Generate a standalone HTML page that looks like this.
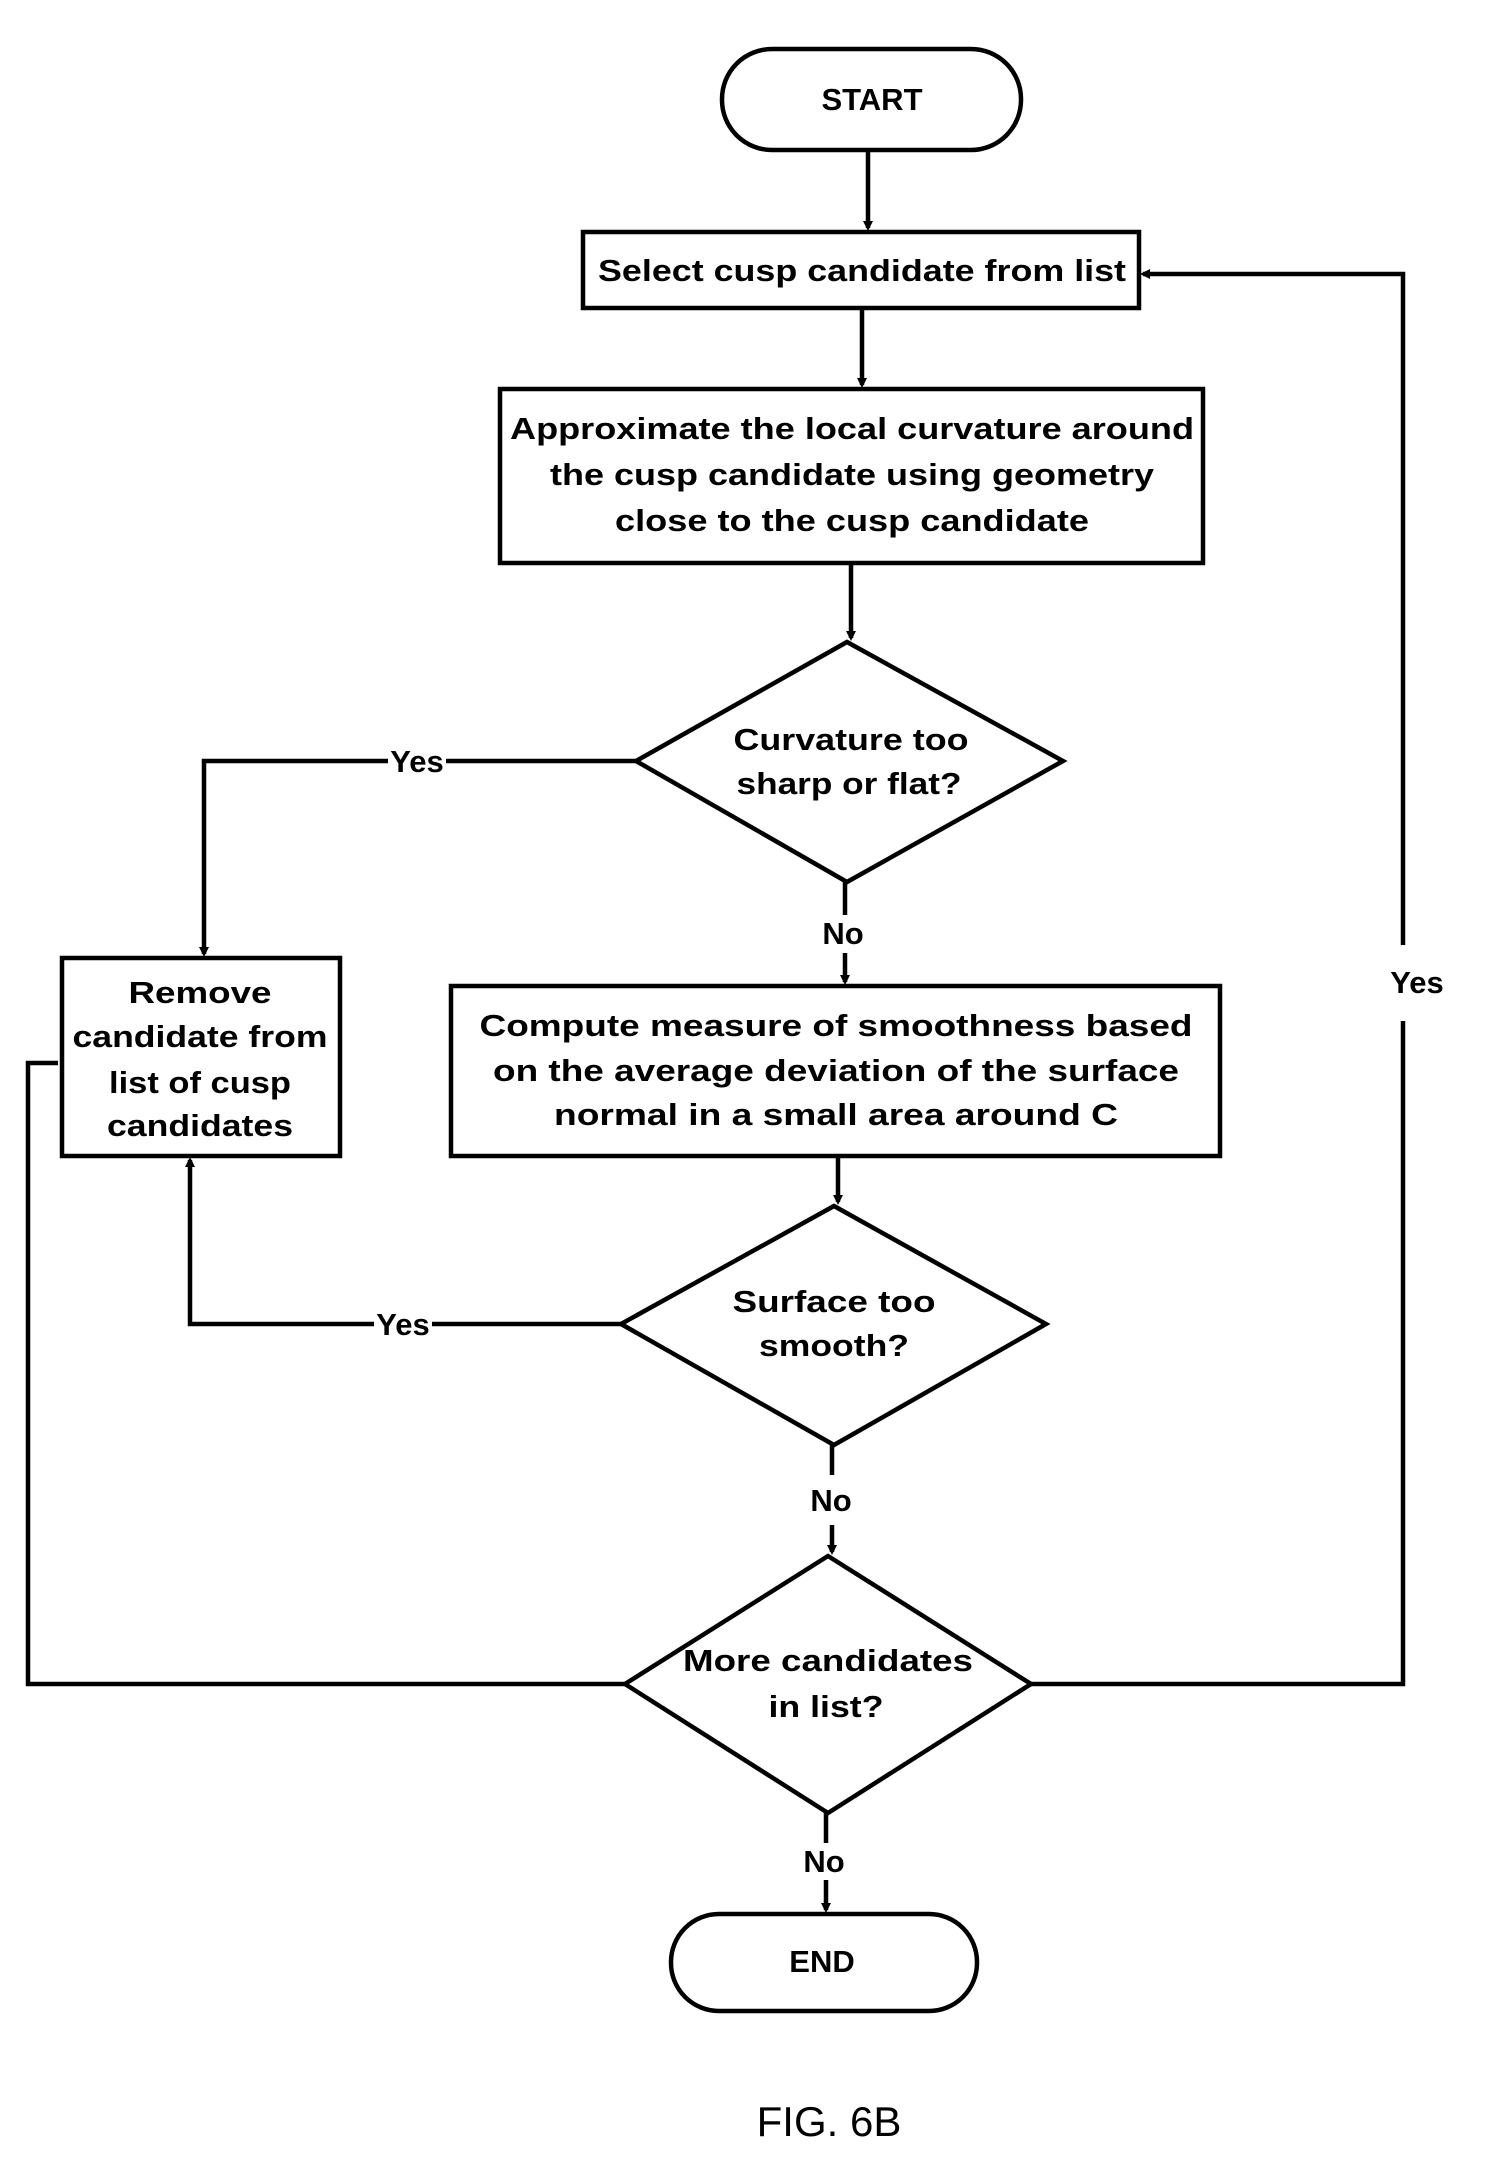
<!DOCTYPE html>
<html><head><style>html,body{margin:0;padding:0;background:#fff}svg{display:block}</style></head>
<body>
<svg width="1500" height="2161" viewBox="0 0 1500 2161" xmlns="http://www.w3.org/2000/svg">
<defs><marker id="a" markerWidth="10" markerHeight="10" refX="7" refY="5" orient="auto" markerUnits="userSpaceOnUse"><path d="M0,0 L10,5 L0,10 z" fill="#000"/></marker></defs>
<g fill="none" stroke="#000" stroke-width="4.5">
<rect x="722" y="49" width="299" height="101" rx="50"/>
<rect x="583" y="232" width="556" height="76"/>
<rect x="500" y="389" width="703" height="174"/>
<polygon points="847,642 1063,761 847,882 636,761"/>
<rect x="62" y="958" width="278" height="198"/>
<rect x="451" y="986" width="769" height="170"/>
<polygon points="834,1206 1046,1324 834,1445 621,1324"/>
<polygon points="828,1556 1031,1684 828,1813 625,1684"/>
<rect x="671" y="1914" width="306" height="97" rx="48"/>
<path d="M868,150 V228" marker-end="url(#a)"/>
<path d="M862,308 V385" marker-end="url(#a)"/>
<path d="M851,563 V638" marker-end="url(#a)"/>
<path d="M636,761 H446 M388,761 H204 V954" marker-end="url(#a)"/>
<path d="M845,882 V915 M845,953 V982" marker-end="url(#a)"/>
<path d="M838,1156 V1202" marker-end="url(#a)"/>
<path d="M621,1324 H432 M374,1324 H190 V1160" marker-end="url(#a)"/>
<path d="M832,1445 V1475 M832,1525 V1552" marker-end="url(#a)"/>
<path d="M625,1684 H28 V1063 H58"/>
<path d="M1031,1684 H1403 V1021 M1403,945 V274 H1143" marker-end="url(#a)"/>
<path d="M826,1813 V1843 M826,1880 V1910" marker-end="url(#a)"/>
</g>
<g font-family="'Liberation Sans',sans-serif" font-weight="bold" font-size="31" text-anchor="middle" fill="#000">
<text x="872" y="110">START</text>
<text x="862" y="281" textLength="528" lengthAdjust="spacingAndGlyphs">Select cusp candidate from list</text>
<text x="852" y="439" textLength="684" lengthAdjust="spacingAndGlyphs">Approximate the local curvature around</text>
<text x="852" y="485" textLength="604" lengthAdjust="spacingAndGlyphs">the cusp candidate using geometry</text>
<text x="852" y="531" textLength="474" lengthAdjust="spacingAndGlyphs">close to the cusp candidate</text>
<text x="851" y="750" textLength="235" lengthAdjust="spacingAndGlyphs">Curvature too</text>
<text x="849" y="794" textLength="225" lengthAdjust="spacingAndGlyphs">sharp or flat?</text>
<text x="417" y="772">Yes</text>
<text x="843" y="944">No</text>
<text x="200" y="1003" textLength="143" lengthAdjust="spacingAndGlyphs">Remove</text>
<text x="200" y="1047" textLength="255" lengthAdjust="spacingAndGlyphs">candidate from</text>
<text x="200" y="1093" textLength="182" lengthAdjust="spacingAndGlyphs">list of cusp</text>
<text x="200" y="1136" textLength="186" lengthAdjust="spacingAndGlyphs">candidates</text>
<text x="836" y="1036" textLength="713" lengthAdjust="spacingAndGlyphs">Compute measure of smoothness based</text>
<text x="836" y="1081" textLength="686" lengthAdjust="spacingAndGlyphs">on the average deviation of the surface</text>
<text x="836" y="1125" textLength="564" lengthAdjust="spacingAndGlyphs">normal in a small area around C</text>
<text x="834" y="1312" textLength="203" lengthAdjust="spacingAndGlyphs">Surface too</text>
<text x="834" y="1356" textLength="150" lengthAdjust="spacingAndGlyphs">smooth?</text>
<text x="403" y="1335">Yes</text>
<text x="831" y="1511">No</text>
<text x="828" y="1671" textLength="290" lengthAdjust="spacingAndGlyphs">More candidates</text>
<text x="826" y="1717" textLength="115" lengthAdjust="spacingAndGlyphs">in list?</text>
<text x="1417" y="993">Yes</text>
<text x="824" y="1872">No</text>
<text x="822" y="1972">END</text>
</g>
<text x="829" y="2136" font-family="'Liberation Sans',sans-serif" font-size="42" text-anchor="middle" fill="#000">FIG. 6B</text>
</svg>
</body></html>
